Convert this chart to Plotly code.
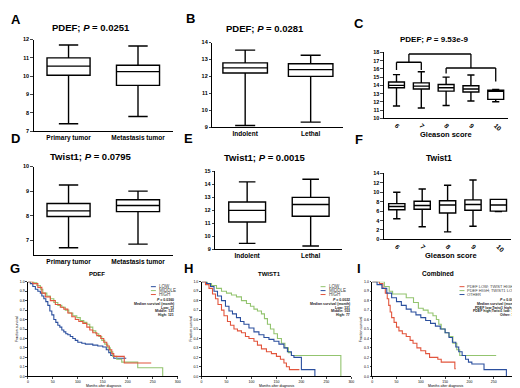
import plotly.graph_objects as go

W, H = 520, 388
FONT = "Arial, Liberation Sans, sans-serif"

# ---------------- data ----------------
# Panel A: PDEF, primary vs metastasis
a_cats = ["Primary tumor", "Metastasis tumor"]
a_low = [7.4, 7.8]; a_q1 = [10.05, 9.5]; a_med = [10.55, 10.25]; a_q3 = [11.0, 10.6]; a_high = [11.7, 11.65]
# Panel B: PDEF, indolent vs lethal
b_cats = ["Indolent", "Lethal"]
b_low = [9.1, 9.3]; b_q1 = [12.2, 12.0]; b_med = [12.5, 12.4]; b_q3 = [12.8, 12.75]; b_high = [13.55, 13.25]
# Panel C: PDEF by Gleason score
c_cats = ["6", "7", "8", "9", "10"]
c_low = [11.5, 11.25, 11.55, 12.1, 12.0]; c_q1 = [13.7, 13.55, 13.3, 13.2, 12.3]
c_med = [14.0, 13.9, 13.7, 13.55, 13.3]; c_q3 = [14.4, 14.3, 14.1, 13.95, 13.4]
c_high = [15.3, 15.65, 15.0, 15.25, 13.5]
# Panel D: Twist1, primary vs metastasis
d_low = [6.7, 6.85]; d_q1 = [7.97, 8.17]; d_med = [8.2, 8.42]; d_q3 = [8.5, 8.65]; d_high = [9.25, 9.0]
# Panel E: Twist1, indolent vs lethal
e_low = [9.45, 9.25]; e_q1 = [11.1, 11.55]; e_med = [12.0, 12.45]; e_q3 = [12.65, 13.0]; e_high = [14.2, 14.4]
# Panel F: Twist1 by Gleason score
f_low = [4.4, 2.7, 1.6, 2.8, 5.9]; f_q1 = [6.3, 6.4, 5.6, 6.2, 6.0]
f_med = [7.0, 7.2, 7.3, 7.4, 7.3]; f_q3 = [7.6, 8.1, 8.2, 8.4, 8.5]
f_high = [10.0, 10.7, 11.5, 12.6, 8.5]

# Significance brackets for panel C (category index, value)
br1 = dict(x0=0, x1=1, top=16.8, drop0=15.85, drop1=15.85)
br2 = dict(x0=2, x1=4, top=16.1, drop0=15.45, drop1=14.45)
br_top = 17.8

# Kaplan-Meier curves (months, survival fraction)
g_low_m = [0, 5, 10, 15, 20, 25, 28, 32, 36, 40, 44, 48, 52, 56, 60, 64, 68, 72, 76, 80, 85, 90, 95, 100, 108, 115, 122, 130, 140, 150, 157, 162, 166, 172, 197]
g_low_s = [1.0, 0.98, 0.95, 0.92, 0.9, 0.88, 0.85, 0.82, 0.79, 0.75, 0.69, 0.65, 0.6, 0.57, 0.54, 0.52, 0.49, 0.47, 0.45, 0.44, 0.42, 0.4, 0.38, 0.36, 0.35, 0.34, 0.34, 0.33, 0.32, 0.31, 0.28, 0.25, 0.22, 0.19, 0.19]
g_mid_m = [0, 12, 18, 25, 30, 38, 45, 52, 60, 68, 75, 82, 90, 98, 105, 112, 118, 124, 130, 136, 142, 148, 154, 160, 165, 170, 178, 188, 220, 270, 270]
g_mid_s = [1.0, 0.99, 0.96, 0.92, 0.88, 0.85, 0.82, 0.78, 0.75, 0.73, 0.7, 0.67, 0.64, 0.62, 0.59, 0.57, 0.55, 0.52, 0.48, 0.45, 0.42, 0.38, 0.34, 0.3, 0.26, 0.21, 0.18, 0.15, 0.09, 0.09, 0.0]
g_high_m = [0, 10, 20, 28, 35, 45, 55, 65, 72, 80, 88, 95, 102, 110, 118, 124, 130, 138, 146, 152, 158, 163, 168, 172, 193, 247]
g_high_s = [1.0, 0.98, 0.94, 0.88, 0.84, 0.8, 0.76, 0.73, 0.71, 0.67, 0.63, 0.6, 0.58, 0.56, 0.52, 0.49, 0.46, 0.43, 0.4, 0.36, 0.32, 0.28, 0.24, 0.21, 0.14, 0.14]

h_low_m = [0, 12, 20, 30, 40, 50, 60, 70, 80, 90, 98, 105, 112, 120, 126, 132, 138, 145, 152, 160, 167, 174, 180, 279, 279]
h_low_s = [1.0, 0.98, 0.96, 0.93, 0.9, 0.88, 0.86, 0.84, 0.8, 0.77, 0.74, 0.71, 0.69, 0.66, 0.61, 0.55, 0.5, 0.45, 0.4, 0.35, 0.3, 0.25, 0.22, 0.22, 0.0]
h_mid_m = [0, 10, 18, 25, 32, 40, 48, 55, 62, 70, 78, 85, 95, 105, 115, 125, 135, 145, 155, 165, 172, 180, 185, 200, 227, 227]
h_mid_s = [1.0, 0.98, 0.95, 0.9, 0.85, 0.8, 0.74, 0.69, 0.66, 0.62, 0.58, 0.55, 0.51, 0.47, 0.44, 0.41, 0.39, 0.37, 0.34, 0.3, 0.26, 0.22, 0.2, 0.07, 0.07, 0.0]
h_high_m = [0, 8, 15, 22, 28, 33, 40, 45, 52, 58, 65, 72, 80, 88, 95, 105, 112, 120, 130, 140, 150, 158, 165, 170, 176, 196]
h_high_s = [1.0, 0.97, 0.93, 0.87, 0.82, 0.76, 0.7, 0.64, 0.58, 0.54, 0.5, 0.48, 0.46, 0.42, 0.4, 0.37, 0.33, 0.29, 0.26, 0.24, 0.21, 0.18, 0.14, 0.1, 0.07, 0.07]

i_red_m = [0, 15, 22, 27, 31, 34, 37, 40, 45, 50, 55, 62, 70, 78, 84, 92, 100, 110, 118, 135, 142, 165, 170, 172]
i_red_s = [1.0, 0.98, 0.93, 0.88, 0.82, 0.75, 0.68, 0.62, 0.57, 0.52, 0.48, 0.45, 0.42, 0.38, 0.35, 0.3, 0.27, 0.24, 0.2, 0.18, 0.15, 0.15, 0.08, 0.08]
i_green_m = [0, 25, 35, 42, 70, 85, 95, 105, 115, 125, 132, 137, 142, 150, 158, 166, 174, 180, 255]
i_green_s = [1.0, 0.95, 0.9, 0.87, 0.83, 0.78, 0.72, 0.7, 0.67, 0.64, 0.6, 0.55, 0.5, 0.46, 0.42, 0.35, 0.28, 0.22, 0.22]
i_blue_m = [0, 10, 20, 30, 40, 50, 60, 70, 80, 90, 100, 110, 120, 130, 140, 150, 158, 165, 172, 178, 185, 192, 198, 205, 225, 230, 276, 276]
i_blue_s = [1.0, 0.97, 0.93, 0.88, 0.83, 0.79, 0.75, 0.71, 0.68, 0.65, 0.62, 0.59, 0.56, 0.53, 0.5, 0.46, 0.41, 0.36, 0.31, 0.26, 0.22, 0.18, 0.15, 0.13, 0.13, 0.07, 0.07, 0.0]

km_xticks = [0, 50, 100, 150, 200, 250, 300]

BLUE = "#2b4f9e"
GREEN = "#93c46f"
RED = "#e2553d"

# ---------------- helpers ----------------
def xd(l, r):
    return [l / W, r / W]

def yd(top, bottom):
    return [1 - bottom / H, 1 - top / H]

def px(x):
    return x / W

def py(y):
    return 1 - y / H

fig = go.Figure()
layout = {}
annotations = []
shapes = []

def bold_ticks(vals, fmt="{}"):
    return [f"<b>{fmt.format(v)}</b>" for v in vals]

def box_panel(n, cats, low, q1, med, q3, high, xdom, ydom, yr, ytv, width, angle=0):
    xs = list(range(len(cats)))
    fig.add_trace(go.Box(
        x=xs, lowerfence=low, q1=q1, median=med, q3=q3, upperfence=high,
        width=width, whiskerwidth=0.45, fillcolor="white",
        line=dict(color="black", width=1.4), boxpoints=False,
        xaxis=f"x{n}", yaxis=f"y{n}", showlegend=False, hoverinfo="skip"))
    layout[f"xaxis{n}"] = dict(
        domain=xd(*xdom), range=[-0.5, len(cats) - 0.5], anchor=f"y{n}",
        tickvals=xs, ticktext=[f"<b>{c}</b>" for c in cats], tickangle=angle,
        showline=True, linecolor="black", linewidth=1.2, ticks="", showgrid=False,
        zeroline=False, tickfont=dict(size=6.5, family=FONT, color="black"))
    layout[f"yaxis{n}"] = dict(
        domain=yd(*ydom), range=yr, anchor=f"x{n}",
        tickvals=ytv, ticktext=bold_ticks(ytv),
        showline=True, linecolor="black", linewidth=1.2, ticks="outside",
        ticklen=2.5, tickwidth=1, showgrid=False, zeroline=False,
        tickfont=dict(size=5.5, family=FONT, color="black"))

box_panel(1, a_cats, a_low, a_q1, a_med, a_q3, a_high, (25, 165), (29, 122), [7, 12], [7, 8, 9, 10, 11, 12], 0.62)
box_panel(2, b_cats, b_low, b_q1, b_med, b_q3, b_high, (205, 337), (32, 118), [9, 14], [9, 10, 11, 12, 13, 14], 0.68)
box_panel(3, c_cats, c_low, c_q1, c_med, c_q3, c_high, (378, 503), (42, 109), [10, 18], list(range(10, 19)), 0.64, angle=45)
box_panel(4, a_cats, d_low, d_q1, d_med, d_q3, d_high, (25, 165), (158, 248), [6.4, 10], [7, 8, 9, 10], 0.62)
box_panel(5, b_cats, e_low, e_q1, e_med, e_q3, e_high, (208, 336), (163, 242), [9, 15], [9, 10, 11, 12, 13, 14, 15], 0.58)
box_panel(6, c_cats, f_low, f_q1, f_med, f_q3, f_high, (378, 506), (165, 232), [0, 14], [0, 2, 4, 6, 8, 10, 12, 14], 0.64, angle=45)

# brackets in panel C
def seg(x0, y0, x1, y1):
    shapes.append(dict(type="line", xref="x3", yref="y3", x0=x0, y0=y0, x1=x1, y1=y1,
                       line=dict(color="black", width=1.3)))

for b in (br1, br2):
    seg(b["x0"], b["drop0"], b["x0"], b["top"])
    seg(b["x0"], b["top"], b["x1"], b["top"])
    seg(b["x1"], b["top"], b["x1"], b["drop1"])
m1 = (br1["x0"] + br1["x1"]) / 2
m2 = (br2["x0"] + br2["x1"]) / 2
seg(m1, br1["top"], m1, br_top)
seg(m1, br_top, m2, br_top)
seg(m2, br_top, m2, br2["top"])

# KM panels
def km_panel(n, curves, xdom):
    for m, s, col in curves:
        fig.add_trace(go.Scatter(x=m, y=s, mode="lines", line=dict(shape="hv", color=col, width=1.1),
                                 xaxis=f"x{n}", yaxis=f"y{n}", showlegend=False, hoverinfo="skip"))
    layout[f"xaxis{n}"] = dict(
        domain=xd(*xdom), range=[0, 300], anchor=f"y{n}", tickvals=km_xticks,
        showline=True, linecolor="black", linewidth=1, ticks="outside", ticklen=1.5, tickwidth=0.8,
        showgrid=False, zeroline=False, tickfont=dict(size=3.5, family=FONT, color="black"))
    yv = [i / 10 for i in range(11)]
    layout[f"yaxis{n}"] = dict(
        domain=yd(275, 371), range=[0, 1.0], anchor=f"x{n}", tickvals=yv,
        ticktext=[f"{v:.1f}" for v in yv],
        showline=True, linecolor="black", linewidth=1, ticks="outside", ticklen=1.5, tickwidth=0.8,
        showgrid=False, zeroline=False, tickfont=dict(size=3.5, family=FONT, color="black"))

km_panel(7, [(g_low_m, g_low_s, BLUE), (g_mid_m, g_mid_s, GREEN), (g_high_m, g_high_s, RED)], (19, 170))
km_panel(8, [(h_low_m, h_low_s, GREEN), (h_mid_m, h_mid_s, BLUE), (h_high_m, h_high_s, RED)], (194, 345))
km_panel(9, [(i_red_m, i_red_s, RED), (i_green_m, i_green_s, GREEN), (i_blue_m, i_blue_s, BLUE)], (366, 513))

def text(x, y, t, size, bold=False, xanchor="center", angle=0, color="black", pad=1):
    annotations.append(dict(xref="paper", yref="paper", x=px(x), y=py(y), text=f"<b>{t}</b>" if bold else t,
                            showarrow=False, xanchor=xanchor, yanchor="middle", textangle=angle,
                            borderpad=pad, font=dict(size=size, family=FONT, color=color)))

# panel letters
for letter, x, y in [("A", 7, 9), ("B", 183, 8), ("C", 353, 13), ("D", 7, 130), ("E", 181, 130),
                     ("F", 353, 131), ("G", 6, 262), ("H", 181, 262), ("I", 353, 262)]:
    text(x, y, letter, 13, bold=True)

# titles
text(83, 17, "PDEF; <i>P</i> = 0.0251", 9.5, bold=True)
text(258, 18, "PDEF; <i>P</i> = 0.0281", 9.5, bold=True)
text(428, 29, "PDEF; <i>P</i> = 9.53e-9", 8, bold=True)
text(83, 148, "Twist1; <i>P</i> = 0.0795", 9.5, bold=True)
text(258, 149, "Twist1; <i>P</i> = 0.0015", 9.5, bold=True)
text(433, 149, "Twist1", 8.5, bold=True)
text(440, 125, "Gleason score", 7.5, bold=True)
text(445, 248, "Gleason score", 7.5, bold=True)
text(89, 267, "PDEF", 6, bold=True)
text(263, 267, "TWIST1", 6, bold=True)
text(432, 267, "Combined", 6.5, bold=True)

# KM axis titles
for xc, yt in [(95, 8), (270, 183), (440, 355)]:
    text(xc, 381, "Months after diagnosis", 3.5, pad=0)
    text(yt, 323, "Fraction survival", 3.5, angle=-90, pad=0)

# KM legends
def km_legend(lx, entries, rx, stats, fs):
    for k, (lab, col) in enumerate(entries):
        y = 280 + 4 * k
        shapes.append(dict(type="line", xref="paper", yref="paper", x0=px(lx), x1=px(lx + 5),
                           y0=py(y), y1=py(y), line=dict(color=col, width=1)))
        text(lx + 7, y, lab, fs, xanchor="left", color="#444", pad=0)
    for k, s in enumerate(stats):
        text(rx, 294 + 3.6 * k, s, 3.5, bold=True, xanchor="right", color="#222", pad=0)

km_legend(143, [("LOW", BLUE), ("MIDDLE", GREEN), ("HIGH", RED)], 167,
          ["<i>P</i> = 0.0360", "Median survival (month)", "Low: 73", "Middle: 121", "High: 121"], 4.5)
km_legend(314, [("LOW", GREEN), ("MIDDLE", BLUE), ("HIGH", RED)], 345,
          ["<i>P</i> = 0.0022", "Median survival (month)", "Low: 131", "Middle: 103", "High: 77"], 4.5)
km_legend(454, [("PDEF LOW; TWIST HIGH", RED), ("PDEF HIGH; TWIST1 LOW", GREEN), ("OTHER", BLUE)], 513,
          ["<i>P</i> = 0.0000", "Median survival (month)", "PDEF low;Twist1 high: 53",
           "PDEF high;Twist1 low: 130", "Other: 119"], 4)

fig.update_layout(width=W, height=H, margin=dict(l=0, r=0, t=0, b=0),
                  paper_bgcolor="white", plot_bgcolor="white", showlegend=False,
                  annotations=annotations, shapes=shapes, font=dict(family=FONT), **layout)

fig.write_html("out.html")
